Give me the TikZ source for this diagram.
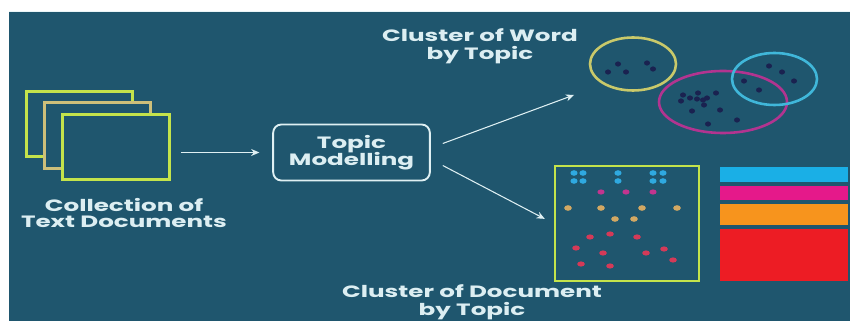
\documentclass[tikz,border=0pt]{standalone}
\usepackage{graphicx}
\usepackage{fontspec}
\setmainfont{Poppins}
\usetikzlibrary{arrows.meta}
\definecolor{tpcbg}{HTML}{1F566E}
\definecolor{tpclime}{HTML}{C4E34B}
\definecolor{tpctan}{HTML}{CDBF7A}
\definecolor{tpctext}{HTML}{DCEEF2}
\definecolor{tpcyellow}{HTML}{C9C96A}
\definecolor{tpcmagenta}{HTML}{B23490}
\definecolor{tpccyan}{HTML}{40B7DA}
\definecolor{tpcnavy}{HTML}{1A2250}
\definecolor{tpcdotcyan}{HTML}{2FA9E0}
\definecolor{tpcdotpink}{HTML}{C2358F}
\definecolor{tpcdotorange}{HTML}{D2A863}
\definecolor{tpcdotred}{HTML}{D43A58}
\definecolor{tpcbarcyan}{HTML}{1AAFE6}
\definecolor{tpcbarpink}{HTML}{E5198A}
\definecolor{tpcbarorange}{HTML}{F7941D}
\definecolor{tpcbarred}{HTML}{ED1C24}
% wide two-line label, stretched like the original artwork
\newcommand{\stretchlabel}[1]{\scalebox{1.5}[1]{\def\arraystretch{1}\begin{tabular}{@{}c@{}}#1\end{tabular}}}
\tikzset{
  docpage/.style={draw=tpclime,fill=tpcbg,line width=2.6pt,minimum width=3.2cm,minimum height=1.97cm,inner sep=0pt},
  lbl/.style={text=tpctext,font=\bfseries\fontsize{14}{12.4}\selectfont,inner sep=1pt},
  arr/.style={draw=tpctext!90,line width=0.9pt,-{Stealth[length=7pt,width=6pt]}}
}

\begin{document}
\begin{tikzpicture}[x=0.03cm,y=-0.03cm]
  \useasboundingbox (0,0) rectangle (850,321);
  \fill[white] (0,0) rectangle (850,321);
  \fill[tpcbg] (9,11) rectangle (850,321);
  \draw[tpctext!60,line width=0.6pt] (9,11.5) -- (850,11.5);
  % stack of documents
  \node[docpage] (docA) at (79.5,124) {};
  \node[docpage,draw=tpctan] (docB) at (97.5,135.5) {};
  \node[docpage] (docC) at (116,147) {};
  \node[lbl] (collab) at (124,215) {\stretchlabel{Collection of\\Text Documents}};
  % topic modelling
  \node[draw=tpctext!90,line width=1.6pt,rounded corners=7pt,minimum width=4.7cm,minimum height=1.68cm,lbl] (topic) at (351.5,152.5) {\raisebox{-1.5pt}{\stretchlabel{Topic\\Modelling}}};
  \draw[arr,shorten >=11pt] (docC.east |- topic.west) ++(10,0) -- (topic.west);
  % word clusters
  \coordinate (wordclu) at (574,95);
  \node[lbl] (wordlab) at (480,46.5) {\stretchlabel{Cluster of Word\\by Topic}};
  \draw[tpcyellow,line width=2.2pt] (633,64) ellipse[x radius=43,y radius=26.5];
  \draw[tpcmagenta,line width=2.2pt] (723,102) ellipse[x radius=64,y radius=31];
  \draw[tpccyan,line width=2.2pt] (774.5,79) ellipse[x radius=42.5,y radius=26];
  \foreach \p in {(618,64),(608,72),(626,72),(647,63),(653,69),
                  (744,81),(759,90),(769,66),(782,72),(794,81),
                  (683,95),(698,93),(716,93),(681,101),(690,98),(697,99),(703,100),
                  (707,98),(704,105),(692,111),(720,110),(708,124),(737,120)}
    \fill[tpcnavy] \p ellipse[x radius=3,y radius=2.6];
  % document clusters
  \node[draw=tpclime,line width=2.4pt,minimum width=4.32cm,minimum height=3.45cm,inner sep=0pt] (docbox) at (627,223.5) {};
  \node[lbl] (doclab) at (472,302.5) {\stretchlabel{Cluster of Document\\by Topic}};
  \foreach \p in {(574,173),(583,173),(574,181),(583,181),(618,173),(618,181),
                  (653,173),(663,173),(653,181),(663,181)}
    \fill[tpcdotcyan] \p ellipse[x radius=3.6,y radius=2.8];
  \foreach \p in {(601,192),(626,192),(653,192)}
    \fill[tpcdotpink] \p ellipse[x radius=3.6,y radius=2.6];
  \foreach \p in {(568,208),(601,208),(642,208),(677,208),(615,219),(634,219)}
    \fill[tpcdotorange] \p ellipse[x radius=3.8,y radius=2.8];
  \foreach \p in {(590,237),(610,234),(637,237),(576,248),(603,253),(646,253),
                  (664,249),(673,260),(581,264),(610,266)}
    \fill[tpcdotred] \p ellipse[x radius=3.8,y radius=2.6];
  \fill[tpcbarcyan] (720,167) rectangle (848,182);
  \fill[tpcbarpink] (720,186) rectangle (848,200);
  \fill[tpcbarorange] (720,204) rectangle (848,225);
  \fill[tpcbarred] (720,229) rectangle (848,281);
  % arrows out of the topic box
  \draw[arr] (topic.east) ++(12,-9) -- (wordclu);
  \draw[arr,shorten >=8.5pt] (topic.east) ++(12,13) -- (docbox.west);
\end{tikzpicture}
\end{document}
